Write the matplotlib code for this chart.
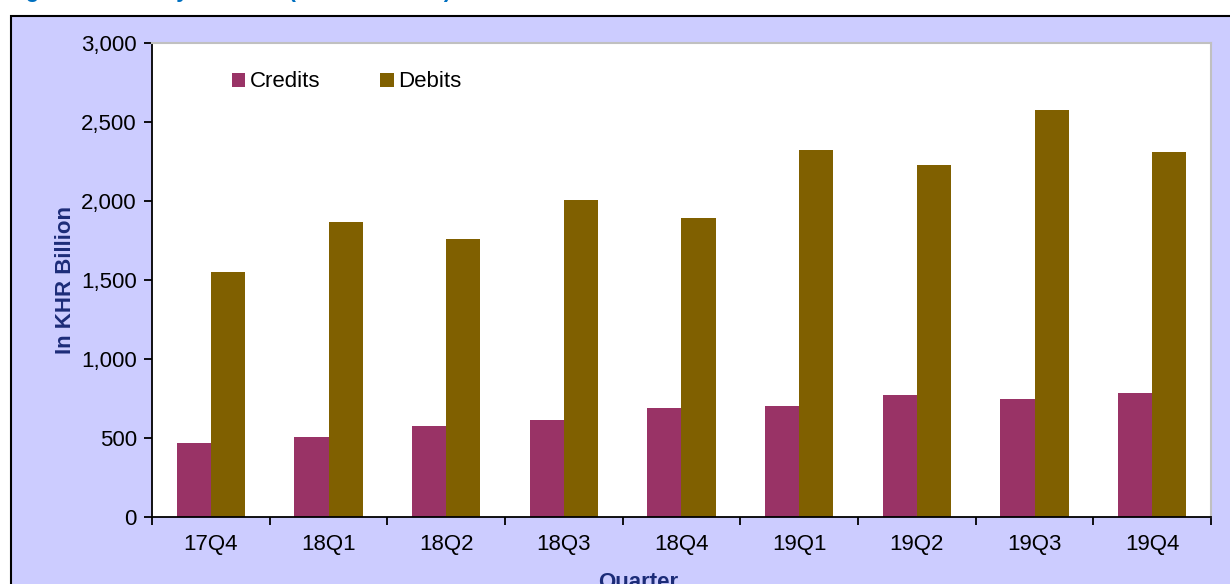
import matplotlib.pyplot as plt
from matplotlib.patches import Rectangle
import numpy as np

plt.rcParams['font.family'] = ['Liberation Sans', 'DejaVu Sans']

quarters = ['17Q4', '18Q1', '18Q2', '18Q3', '18Q4', '19Q1', '19Q2', '19Q3', '19Q4']
credits = [470, 505, 578, 612, 688, 700, 770, 745, 782]
debits = [1552, 1865, 1757, 2007, 1890, 2322, 2225, 2575, 2310]

navy = '#1c2c78'

fig = plt.figure(figsize=(12.3, 5.84), dpi=100, facecolor='white')

# lavender chart frame (runs off the bottom and right of the picture)
fig.patches.append(Rectangle((11 / 1230, -0.2), 1.2, 0.2 + 1 - 16 / 584,
                             transform=fig.transFigure, facecolor='#ccccff',
                             edgecolor='black', linewidth=1.5, zorder=-10))

# cut-off caption at the very top
fig.text(0.005, 1 + 3.5 / 584, 'Figure 24: Money Transfer (in KHR Billion)',
         color='#0070c0', fontsize=16, fontweight='bold', va='baseline')

ax = fig.add_axes([152 / 1230, 1 - 517 / 584, (1211 - 152) / 1230, (517 - 43) / 584])
ax.set_facecolor('white')

x = np.arange(len(quarters))
w = 0.29
ax.bar(x - w / 2, credits, w, color='#993366', label='Credits', zorder=2)
ax.bar(x + w / 2, debits, w, color='#806000', label='Debits', zorder=2)

ax.set_xlim(-0.5, len(quarters) - 0.5)
ax.set_ylim(0, 3000)
ax.set_yticks(range(0, 3001, 500))
ax.set_yticklabels([f'{v:,}' for v in range(0, 3001, 500)])
ax.set_xticks(x)
ax.set_xticklabels(quarters)
ax.set_xticks(np.arange(-0.5, len(quarters)), minor=True)
ax.tick_params(axis='x', which='major', length=0, pad=12, labelsize=16)
ax.tick_params(axis='x', which='minor', length=6, width=1.3, direction='out')
ax.tick_params(axis='y', length=6, width=1.3, direction='out', pad=5, labelsize=16)

for s in ['left', 'bottom']:
    ax.spines[s].set_color('black')
    ax.spines[s].set_linewidth(1.3)
for s in ['top', 'right']:
    ax.spines[s].set_color('#c0c0c0')
    ax.spines[s].set_linewidth(1.5)

ax.set_ylabel('In KHR Billion', color=navy, fontsize=16, fontweight='bold')
ax.yaxis.set_label_coords(-0.072, 0.5)
ax.set_xlabel('Quarter', color=navy, fontsize=16, fontweight='bold')
ax.xaxis.set_label_coords(0.459, -0.116)

ax.legend(loc='upper left', bbox_to_anchor=(0.0755, 0.94), ncol=2, frameon=False,
          fontsize=16, handlelength=0.6, handleheight=0.6, handletextpad=0.2,
          columnspacing=2.7, borderaxespad=0, borderpad=0)

fig.savefig('out.png', dpi=100, facecolor=fig.get_facecolor())
